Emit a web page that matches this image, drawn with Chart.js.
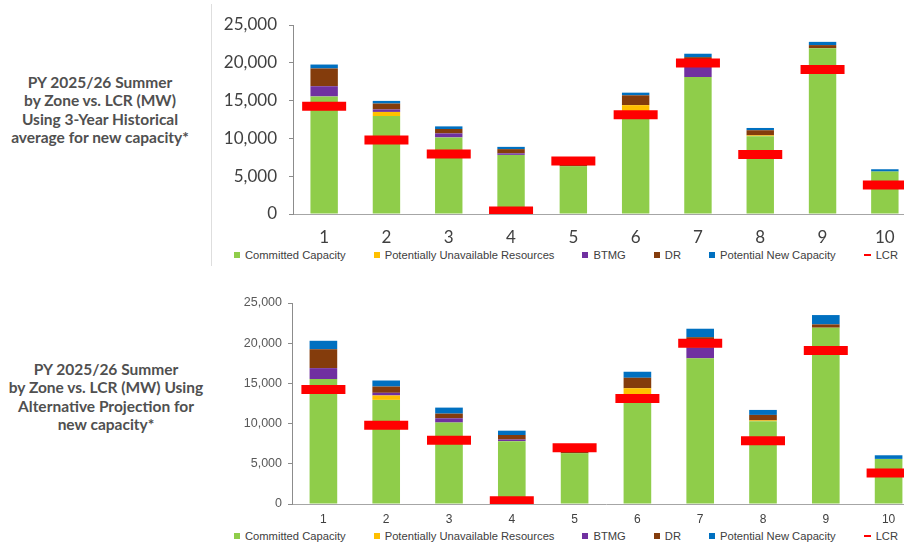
<!DOCTYPE html>
<html>
<head>
<meta charset="utf-8">
<script src="https://cdn.jsdelivr.net/npm/chart.js@4.4.1/dist/chart.umd.min.js"></script>
<style>
  html, body { margin: 0; padding: 0; background: #fff; }
  body { width: 904px; height: 548px; overflow: hidden; position: relative; }
  .titulo {
    position: absolute; text-align: center; width: 200px;
    font-family: 'Lato', sans-serif; font-weight: 700; font-size: 15.5px;
    line-height: 18.4px; color: #505050;
  }
  #titulo-1 { left: 0; top: 73px; }
  #titulo-2 { left: 6px; top: 360px; }
  .caja { position: absolute; }
  #caja-1 { left: 211px; top: 0; width: 710px; height: 248px; }
  #caja-2 { left: 211px; top: 280px; width: 712px; height: 248px; }
  #separador { position: absolute; left: 211px; top: 4px; width: 1px; height: 262px; background: #dedede; }
  .leyenda {
    position: absolute; left: 211px; width: 710px; display: flex; justify-content: center; gap: 28px;
    font-family: 'Liberation Sans', Arial, sans-serif; font-size: 11.2px; line-height: 12px;
    color: #404040; white-space: nowrap;
  }
  #leyenda-1 { top: 249px; }
  #leyenda-2 { top: 530px; }
  .item { display: flex; align-items: center; }
  .marca { width: 6px; height: 6px; margin-right: 5px; }
  .marca.linea { width: 7px; height: 2px; }
</style>
</head>
<body>
<div class="titulo" id="titulo-1">PY 2025/26 Summer<br>by Zone vs. LCR (MW)<br>Using 3-Year Historical<br>average for new capacity*</div>
<div class="titulo" id="titulo-2">PY 2025/26 Summer<br>by Zone vs. LCR (MW) Using<br>Alternative Projection for<br>new capacity*</div>
<div id="separador"></div>
<div class="caja" id="caja-1"><canvas id="grafico-historico"></canvas></div>
<div class="leyenda" id="leyenda-1"></div>
<div class="caja" id="caja-2"><canvas id="grafico-alternativo"></canvas></div>
<div class="leyenda" id="leyenda-2"></div>

<script>
// Zonas y valores (MW)
var zonas = ['1', '2', '3', '4', '5', '6', '7', '8', '9', '10'];
var committed = [15550, 12950, 10130, 7820, 6300, 13250, 18120, 10300, 21930, 5610];
var unavailable = [0, 550, 0, 0, 0, 1150, 0, 100, 0, 0];
var btmg = [1350, 330, 530, 200, 0, 0, 1330, 0, 0, 0];
var dr = [2350, 780, 580, 560, 250, 1300, 1300, 680, 410, 0];
var newHistorical = [520, 350, 350, 300, 0, 350, 450, 300, 430, 310];
var newAlternative = [1050, 750, 750, 540, 0, 750, 1050, 620, 1160, 450];
var lcr = [14250, 9780, 7920, 400, 7000, 13120, 19980, 7880, 19100, 3850];
var yTicks = [0, 5000, 10000, 15000, 20000, 25000];

// Colores de las series
var colores = {
    committed: '#8fcd4a',
    unavailable: '#ffc000',
    btmg: '#7030a0',
    dr: '#843c0c',
    nueva: '#0070c0',
    lcr: '#ff0000'
};

function crearGrafico(idCanvas, nuevaCapacidad, estilo) {
    var ctx = document.getElementById(idCanvas).getContext('2d');

    function barra(label, data, color) {
        return { type: 'bar', label: label, data: data, backgroundColor: color, stack: 'cap', order: 1 };
    }

    return new Chart(ctx, {
        data: {
            labels: zonas,
            datasets: [
                barra('Committed Capacity', committed, colores.committed),
                barra('Potentially Unavailable Resources', unavailable, colores.unavailable),
                barra('BTMG', btmg, colores.btmg),
                barra('DR', dr, colores.dr),
                barra('Potential New Capacity', nuevaCapacidad, colores.nueva),
                {
                    type: 'line',
                    label: 'LCR',
                    data: lcr,
                    showLine: false,
                    stack: 'lcr',
                    order: 0,
                    borderColor: colores.lcr,
                    backgroundColor: colores.lcr,
                    pointStyle: 'line',
                    pointRadius: 22,
                    pointHoverRadius: 22,
                    pointBorderWidth: 9,
                    pointHoverBorderWidth: 9
                }
            ]
        },
        options: {
            animation: false,
            responsive: true,
            maintainAspectRatio: false,
            layout: {
                autoPadding: false,
                padding: { top: estilo.arriba, right: estilo.derecha, bottom: 0, left: 0 }
            },
            datasets: { bar: { categoryPercentage: 1, barPercentage: 0.44 } },
            scales: {
                x: {
                    stacked: true,
                    grid: { display: false, drawTicks: false },
                    border: { display: true, color: '#a6a6a6', width: 1 },
                    ticks: { font: estilo.fuenteX, color: '#404040', padding: estilo.padX },
                    afterFit: function (s) { s.height = estilo.altoX; }
                },
                y: {
                    stacked: true,
                    min: 0,
                    max: 25000,
                    afterBuildTicks: function (s) {
                        s.ticks = yTicks.map(function (v) { return { value: v }; });
                    },
                    ticks: {
                        font: estilo.fuenteY,
                        color: estilo.colorY,
                        padding: estilo.padY,
                        callback: function (v) { return v.toLocaleString('en-US'); }
                    },
                    grid: { drawOnChartArea: false, drawTicks: true, tickLength: 4, color: '#8c8c8c' },
                    border: { display: true, color: '#8c8c8c', width: 1 },
                    afterFit: function (s) { s.width = estilo.anchoY; }
                }
            },
            plugins: {
                tooltip: { enabled: false },
                legend: { display: false }
            }
        }
    });
}

// Leyenda en HTML a partir de las series del grafico
function crearLeyenda(chart, idLeyenda) {
    var items = Chart.defaults.plugins.legend.labels.generateLabels(chart);
    items.sort(function (a, b) { return a.datasetIndex - b.datasetIndex; });
    var html = items.map(function (item) {
        var ds = chart.data.datasets[item.datasetIndex];
        var clase = ds.type === 'line' ? 'marca linea' : 'marca';
        return '<span class="item"><span class="' + clase + '" style="background:' + ds.backgroundColor + '"></span>' + item.text + '</span>';
    }).join('');
    document.getElementById(idLeyenda).innerHTML = html;
}

// Grafico superior: promedio historico de 3 anos
var graficoHistorico = crearGrafico('grafico-historico', newHistorical, {
    arriba: 25, derecha: 5,
    altoX: 34, padX: 13, anchoY: 82, padY: 12,
    fuenteX: { family: 'Lato', size: 17 },
    fuenteY: { family: 'Lato', size: 17 },
    colorY: '#404040'
});
crearLeyenda(graficoHistorico, 'leyenda-1');

// Grafico inferior: proyeccion alternativa
var graficoAlternativo = crearGrafico('grafico-alternativo', newAlternative, {
    arriba: 23, derecha: 3,
    altoX: 24, padX: 8, anchoY: 81, padY: 6,
    fuenteX: { family: 'Liberation Sans', size: 12 },
    fuenteY: { family: 'Liberation Sans', size: 12.5 },
    colorY: '#595959'
});
crearLeyenda(graficoAlternativo, 'leyenda-2');
</script>
</body>
</html>
